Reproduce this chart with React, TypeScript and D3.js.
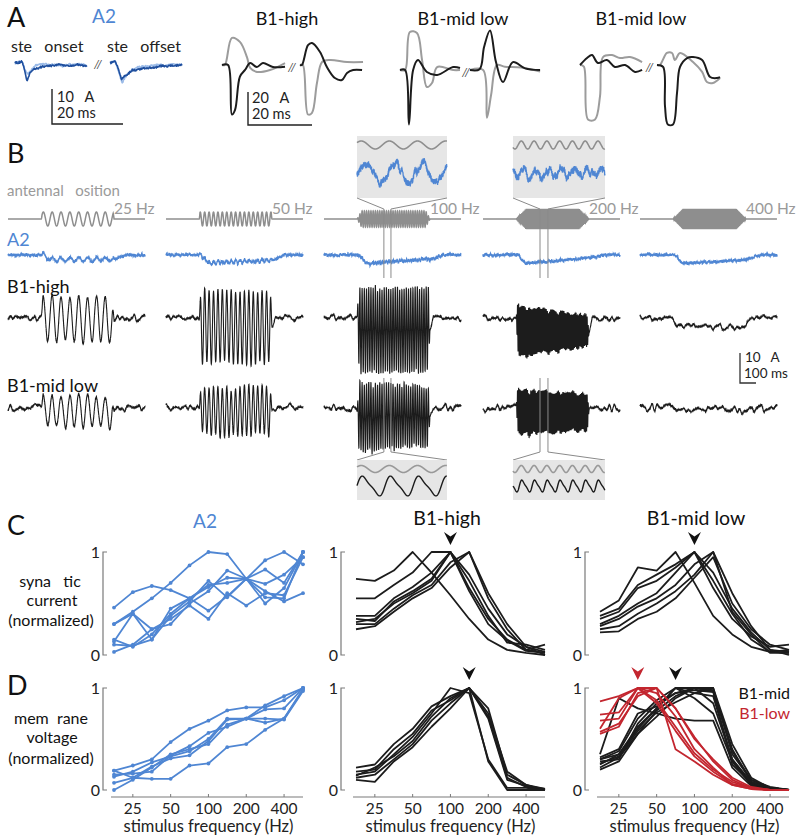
import React from 'react';
import * as d3 from 'd3';

// ================= DATA =================
// Tuning curves (panels C & D): normalized response per stimulus frequency
const FREQS = [17.7, 25, 35.4, 50, 70.7, 100, 141, 200, 283, 400, 566];
const TICK_FREQS = [25, 50, 100, 200, 400];

const C_A2 = [
  [0.46, 0.61, 0.67, 0.63, 0.55, 0.43, 0.57, 0.74, 0.62, 0.52, 0.6],
  [0.3, 0.42, 0.55, 0.7, 0.87, 1.0, 0.98, 0.74, 0.69, 0.78, 0.95],
  [0.3, 0.4, 0.15, 0.45, 0.55, 0.66, 0.75, 0.74, 0.56, 0.55, 1.0],
  [0.13, 0.4, 0.25, 0.3, 0.5, 0.62, 0.82, 0.74, 0.92, 1.0, 0.88],
  [0.15, 0.08, 0.2, 0.4, 0.55, 0.68, 0.7, 0.74, 0.5, 0.65, 1.0],
  [0.1, 0.09, 0.15, 0.38, 0.52, 0.72, 0.56, 0.74, 0.83, 0.7, 1.0],
  [0.03, 0.1, 0.25, 0.35, 0.48, 0.35, 0.6, 0.48, 0.6, 0.58, 0.95],
];
const C_HIGH = [
  [0.74, 0.72, 0.82, 1.0, 0.8, 0.58, 0.35, 0.15, 0.05, 0.02, 0.0],
  [0.55, 0.55, 0.68, 0.8, 1.0, 1.0, 0.65, 0.35, 0.15, 0.05, 0.1],
  [0.38, 0.38, 0.55, 0.66, 0.8, 1.0, 0.78, 0.45, 0.2, 0.08, 0.03],
  [0.35, 0.33, 0.52, 0.62, 0.74, 1.0, 0.72, 0.38, 0.12, 0.1, 0.05],
  [0.32, 0.35, 0.5, 0.6, 0.72, 1.0, 0.62, 0.3, 0.14, 0.04, 0.02],
  [0.3, 0.3, 0.45, 0.58, 0.68, 0.9, 1.0, 0.55, 0.25, 0.05, 0.02],
  [0.25, 0.28, 0.42, 0.55, 0.65, 0.85, 1.0, 0.6, 0.3, 0.08, 0.0],
];
const C_MIDLOW = [
  [0.42, 0.53, 0.85, 0.82, 1.0, 0.7, 0.38, 0.2, 0.08, 0.03, 0.05],
  [0.38, 0.45, 0.68, 0.78, 0.88, 1.0, 0.72, 0.4, 0.15, 0.03, 0.02],
  [0.35, 0.42, 0.65, 0.72, 0.85, 1.0, 0.8, 0.45, 0.22, 0.05, 0.03],
  [0.3, 0.38, 0.5, 0.6, 0.8, 1.0, 0.65, 0.35, 0.18, 0.08, 0.1],
  [0.28, 0.35, 0.47, 0.55, 0.68, 0.88, 1.0, 0.42, 0.2, 0.02, 0.02],
  [0.25, 0.28, 0.4, 0.5, 0.62, 0.78, 1.0, 0.6, 0.28, 0.05, 0.0],
  [0.22, 0.23, 0.35, 0.42, 0.55, 0.75, 0.95, 0.5, 0.25, 0.1, 0.05],
];
const D_A2 = [
  [0.19, 0.24, 0.3, 0.47, 0.6, 0.68, 0.78, 0.81, 0.81, 0.88, 1.0],
  [0.07, 0.12, 0.11, 0.11, 0.24, 0.26, 0.42, 0.45, 0.59, 0.7, 0.98],
  [0.13, 0.18, 0.27, 0.33, 0.38, 0.5, 0.7, 0.7, 0.7, 0.69, 0.97],
  [0.15, 0.16, 0.18, 0.34, 0.43, 0.56, 0.62, 0.7, 0.83, 0.92, 1.0],
  [0.19, 0.12, 0.23, 0.31, 0.34, 0.48, 0.69, 0.7, 0.66, 0.7, 0.99],
  [0.0, 0.1, 0.22, 0.35, 0.4, 0.45, 0.64, 0.7, 0.79, 0.8, 1.0],
];
const D_HIGH = [
  [0.22, 0.25, 0.45, 0.6, 0.82, 0.92, 1.0, 0.8, 0.15, 0.05, 0.0],
  [0.18, 0.2, 0.4, 0.55, 0.78, 0.88, 1.0, 0.72, 0.12, 0.03, 0.0],
  [0.15, 0.18, 0.35, 0.52, 0.75, 1.0, 0.95, 0.3, 0.02, 0.02, 0.0],
  [0.12, 0.15, 0.3, 0.45, 0.68, 0.85, 1.0, 0.7, 0.1, 0.04, 0.01],
  [0.1, 0.08, 0.28, 0.42, 0.62, 0.8, 1.0, 0.28, 0.0, 0.0, 0.0],
  [0.14, 0.22, 0.33, 0.48, 0.72, 0.9, 1.0, 0.75, 0.18, 0.05, 0.01],
];
const D_MID = [
  [0.22, 0.32, 0.55, 0.78, 0.92, 1.0, 0.98, 0.4, 0.08, 0.02, 0.0],
  [0.25, 0.35, 0.6, 0.8, 1.0, 0.95, 0.92, 0.3, 0.06, 0.01, 0.0],
  [0.28, 0.3, 0.65, 0.85, 0.95, 1.0, 1.0, 0.35, 0.1, 0.02, 0.0],
  [0.3, 0.38, 0.7, 0.88, 1.0, 0.9, 0.75, 0.28, 0.05, 0.01, 0.0],
  [0.32, 0.4, 0.75, 0.82, 0.95, 0.98, 0.96, 0.25, 0.07, 0.02, 0.0],
  [0.35, 0.9, 0.8, 0.75, 0.7, 0.68, 0.68, 0.22, 0.04, 0.0, 0.0],
  [0.2, 0.28, 0.55, 0.72, 0.9, 1.0, 0.85, 0.3, 0.08, 0.02, 0.0],
  [0.3, 0.35, 0.62, 0.8, 1.0, 1.0, 0.97, 0.38, 0.1, 0.03, 0.0],
  [0.26, 0.33, 0.58, 0.76, 0.86, 0.95, 1.0, 0.45, 0.12, 0.02, 0.0],
];
const D_LOW = [
  [0.87, 0.92, 1.0, 0.88, 0.62, 0.36, 0.2, 0.08, 0.02, 0.0, 0.0],
  [0.74, 0.76, 1.0, 1.0, 0.8, 0.5, 0.3, 0.12, 0.03, 0.0, 0.0],
  [0.68, 0.7, 1.0, 0.95, 0.72, 0.4, 0.22, 0.05, 0.01, 0.0, 0.0],
  [0.57, 0.65, 0.92, 1.0, 0.8, 0.52, 0.28, 0.1, 0.02, 0.0, 0.0],
  [0.55, 0.62, 0.95, 1.0, 0.4, 0.28, 0.15, 0.05, 0.01, 0.0, 0.0],
  [0.6, 0.9, 1.0, 0.85, 0.58, 0.33, 0.18, 0.06, 0.02, 0.0, 0.0],
];
const ARROW_C_HIGH = 100;
const ARROW_C_MIDLOW = 100;
const ARROW_D_HIGH = 141;
const ARROW_D_MID = 70.7;
const ARROW_D_LOW = 35.4;

// Panel A: step responses, knots [ms, pA]
type Knot = [number, number];
const A2_ON_DARK: Knot[] = [[0, 0], [2, 0.3], [2.5, -1.5], [3.4, -5], [4.2, -3], [5.4, -1.7], [7, -1.2], [9.9, -0.8], [12.7, -0.5], [15.5, -0.9], [18.3, -0.6], [20.3, -0.9]];
const A2_ON_LIGHT: Knot[] = [[0, 0], [2, 0.4], [2.8, -2], [3.6, -3.2], [4.5, -2], [6, -0.6], [9, -0.3], [13, -0.8], [17, -0.4], [20.3, -0.5]];
const A2_OFF_DARK: Knot[] = [[0, 0], [1.5, 0.4], [2.3, -1.5], [3.2, -4.6], [4.5, -3.6], [6, -2.3], [8, -1.8], [11, -1.4], [14, -0.9], [17, -0.8], [20.3, -0.6]];
const A2_OFF_LIGHT: Knot[] = [[0, 0], [1.5, 0.5], [2.5, -2.5], [3.4, -5.8], [4.4, -4], [6, -2], [9, -1], [13, -0.7], [17, -0.5], [20.3, -0.4]];

const HIGH_ON_BLACK: Knot[] = [[0, 0], [1.9, 0], [3.1, -30], [4.1, -27], [5.6, -7], [7.2, -3], [8.8, 1.2], [10.9, -1.2], [12.8, 1.2], [15.9, -1.2], [19.7, -1]];
const HIGH_ON_GRAY: Knot[] = [[0, 0], [0.9, 0], [3.1, 16.4], [5.6, 14], [7.8, 4.8], [8.8, -1.8], [10.9, -4.2], [15, -3], [19.7, 1.2]];
const HIGH_OFF_BLACK: Knot[] = [[0, 0], [0.6, 0], [2.5, 12], [3.75, 13.3], [6.25, 7.9], [8.4, -1.2], [10.9, -7.9], [13.1, -9.1], [14.7, -4.8], [16.6, -3], [19.4, -3]];
const HIGH_OFF_GRAY: Knot[] = [[0, 0], [0.9, 0], [2.5, -30], [3.75, -29], [5.3, -10.9], [6.9, 1.8], [9.4, 3], [14.7, 1.8], [19.7, 1.8]];
const MID_ON_BLACK: Knot[] = [[0, 0], [1.6, 0], [2.8, -33], [4.1, 0], [5.6, 6], [8.4, -1.2], [11.6, -3], [16.6, 1.8], [18.75, 1.2]];
const MID_ON_GRAY: Knot[] = [[0, 0], [1.6, 0], [3.1, 23], [5.3, 22.4], [6.9, 6], [8.4, -10.3], [10, -7.9], [11.6, 1.8], [16.6, 0], [18.75, 0]];
const MID_OFF_BLACK: Knot[] = [[0, 0], [3, 0.5], [4.4, 14], [6.25, 24], [8.1, 5], [10.3, -7.3], [13.4, 4.8], [17.2, 1], [21.9, 0]];
const MID_OFF_GRAY: Knot[] = [[0, 0], [4.1, 0], [5.3, -29], [6.6, -15], [8.4, 3], [10.9, 2], [16, 1.5], [21.9, -1]];
const LOW_ON_BLACK: Knot[] = [[0, 0], [2.2, 4.2], [3.75, 6], [5.6, 1.2], [8.4, 3], [10.9, -1.2], [14.1, 0], [17.2, -4.2], [19.4, -3]];
const LOW_ON_GRAY: Knot[] = [[0, 0], [1.2, -1], [2.5, -33], [4.7, -33], [6.25, -19], [7.2, 4.8], [10, 6], [12.5, 4.2], [15.6, 4.8], [19.4, 1.8]];
const LOW_OFF_BLACK: Knot[] = [[0, 0], [1.9, -1.2], [2.5, -25], [3.4, -36], [5, -36], [6.25, -17], [7.2, -1.2], [9.4, 4.2], [11.25, 4.8], [14.1, 3], [16.6, -7.3], [18.75, -7.9], [19.7, -7.3]];
const LOW_OFF_GRAY: Knot[] = [[0, 0], [0.9, 0], [3.1, 7.3], [4.7, 7.3], [5.6, 3], [7.2, 7.3], [11.25, 1.8], [14.1, -4.2], [15.6, -10.3], [17.5, -10.9], [19.7, -7.9]];

// Panel B: stimulus and response parameters per frequency
const STIM_FREQS = [25, 50, 100, 200, 400];
const STIM_LABELS = ['25 Hz', '50 Hz', '100 Hz', '200 Hz', '400 Hz'];
const STIM_AMP = [1, 1, 1.15, 1.45, 1.45];
const STIM_RAMP = [4, 4, 20, 45, 45];
const A2_STEP = [-1.6, -2.6, -2.8, -2.8, -2.8];
const A2_RECOVER = [0.9, 0.7, 0.5, 0.35, 0.6];
const A2_OSC = [0.7, 0.5, 0.3, 0, 0];
const HIGH_AMP = [7.5, 12, 14, 8.5, 0];
const HIGH_DECAY = [1, 1, 1, 0.6, 1];
const HIGH_SHIFT = [-0.5, -3, -4, -4.5, -2.8];
const MIDLOW_AMP = [5, 8, 11.5, 7.5, 0];
const MIDLOW_DECAY = [1, 1, 0.85, 0.8, 1];
const MIDLOW_SHIFT = [-1, -1, -3, -1.5, -0.5];
const INSET_WIN: [number, number][] = [[271, 303], [258, 294]];
const INSET_BLUE_OSC = [0.55, 0.25];
const INSET_BLACK_OSC = [1, 0.6];

// Fixed noise table (texture for recorded traces)
const NOISE = [0.31, -0.72, 0.15, 0.88, -0.43, -0.12, 0.64, -0.91, 0.27, 0.53, -0.35, 0.79, -0.66, 0.08, -0.21, 0.95, -0.58, 0.41, -0.84, 0.19, 0.71, -0.05, -0.77, 0.36, 0.62, -0.49, 0.12, -0.93, 0.47, 0.83, -0.28, -0.61, 0.24, 0.56, -0.14, -0.87, 0.69, 0.03, -0.39, 0.91, -0.71, 0.18, 0.44, -0.56, 0.77, -0.24, -0.82, 0.33, 0.59, -0.67, 0.09, 0.86, -0.45, -0.17, 0.51, -0.96, 0.22, 0.68, -0.31, 0.74, -0.53, 0.11, -0.79, 0.38, 0.97, -0.19, -0.63, 0.29, 0.57, -0.88, 0.14, 0.46, -0.36, 0.81, -0.07, -0.69, 0.42, 0.65, -0.51, 0.21, -0.92, 0.73, 0.05, -0.26, 0.89, -0.41, 0.17, -0.74, 0.55, 0.32, -0.98, 0.61, -0.13, 0.39, -0.57, 0.85, -0.33];

// ================= STYLE / LAYOUT =================
const FONT = 'Lato, "Open Sans", Arial, sans-serif';
const BLUE = '#4f86d3';
const DARK_BLUE = '#1f4f9e';
const LIGHT_BLUE = '#9bbbe8';
const RED = '#c3262f';
const BLACK = '#1c1c1c';
const STIM_GRAY = '#8e8e8e';
const TEXT_GRAY = '#9a9a9a';
const AXIS_GRAY = '#7a7a7a';

const N1 = NOISE.length;
const N2 = N1 - 8;
function noiseAt(i: number, seed: number): number {
  const a = NOISE[(((i * 7 + seed * 13) % N1) + N1) % N1];
  const b = NOISE[(((i * 11 + seed * 29 + 3) % N2) + N2) % N2];
  return 0.6 * a + 0.4 * b;
}
function smoothNoise(t: number, step: number, seed: number): number {
  const u = t / step;
  const k = Math.floor(u);
  const f = u - k;
  const s = f * f * (3 - 2 * f);
  const a = noiseAt(k, seed);
  const b = noiseAt(k + 1, seed);
  return a + (b - a) * s;
}
function lerpKnots(k: Knot[], t: number): number {
  if (t <= k[0][0]) return k[0][1];
  for (let j = 1; j < k.length; j++) {
    if (t <= k[j][0]) {
      const [t0, v0] = k[j - 1];
      const [t1, v1] = k[j];
      return v0 + ((v1 - v0) * (t - t0)) / (t1 - t0);
    }
  }
  return k[k.length - 1][1];
}

// ================= PANEL A =================
function StepTrace({ knots, x0, base, pxms, pxpa, color, width, noisy, seed }: any) {
  const xs = d3.scaleLinear().domain([0, 1]).range([x0, x0 + pxms]);
  const ys = d3.scaleLinear().domain([0, 1]).range([base, base - pxpa]);
  let pts: Knot[];
  if (noisy) {
    pts = [];
    const end = knots[knots.length - 1][0];
    let i = 0;
    for (let t = 0; t <= end; t += 0.15, i++) {
      pts.push([t, lerpKnots(knots, t) + 0.35 * noiseAt(i, seed) + 0.25 * smoothNoise(t, 0.8, seed + 3)]);
    }
  } else pts = knots;
  const line = d3
    .line<Knot>()
    .x((d) => xs(d[0]))
    .y((d) => ys(d[1]))
    .curve(noisy ? d3.curveLinear : d3.curveCatmullRom.alpha(0.5));
  return <path d={line(pts) || ''} fill="none" stroke={color} strokeWidth={width} strokeLinejoin="round" />;
}

function PanelA() {
  const pxmsA2 = 3.55, pxpaA2 = 3.5;
  const pxmsB1 = 3.2, pxpaB1 = 1.65;
  const groups = [
    { title: 'B1-high', cx: 287, on: 222, off: 300, base: 65, k: [HIGH_ON_GRAY, HIGH_ON_BLACK, HIGH_OFF_GRAY, HIGH_OFF_BLACK] },
    { title: 'B1-mid low', cx: 463, on: 400, off: 470, base: 70, k: [MID_ON_GRAY, MID_ON_BLACK, MID_OFF_GRAY, MID_OFF_BLACK] },
    { title: 'B1-mid low', cx: 641, on: 580, off: 657, base: 65, k: [LOW_ON_GRAY, LOW_ON_BLACK, LOW_OFF_GRAY, LOW_OFF_BLACK] },
  ];
  return (
    <g>
      <text x={7} y={27} fontSize={27} fill="#111">A</text>
      <text x={104} y={23} fontSize={19} fill={BLUE} textAnchor="middle">A2</text>
      <text x={11} y={52} fontSize={16} fill="#222" style={{ whiteSpace: 'pre' }}>ste   onset</text>
      <text x={107} y={52} fontSize={16} fill="#222" style={{ whiteSpace: 'pre' }}>ste   offset</text>
      <StepTrace knots={A2_ON_LIGHT} x0={15} base={63} pxms={pxmsA2} pxpa={pxpaA2} color={LIGHT_BLUE} width={1.6} noisy seed={11} />
      <StepTrace knots={A2_ON_DARK} x0={15} base={63} pxms={pxmsA2} pxpa={pxpaA2} color={DARK_BLUE} width={1.6} noisy seed={4} />
      <StepTrace knots={A2_OFF_LIGHT} x0={110} base={63} pxms={pxmsA2} pxpa={pxpaA2} color={LIGHT_BLUE} width={1.6} noisy seed={17} />
      <StepTrace knots={A2_OFF_DARK} x0={110} base={63} pxms={pxmsA2} pxpa={pxpaA2} color={DARK_BLUE} width={1.6} noisy seed={23} />
      <text x={94} y={68} fontSize={12} fill="#444" fontStyle="italic">//</text>
      {/* scale bar A2 */}
      <path d={`M52,${124 - 10 * pxpaA2}V124H${52 + 20 * pxmsA2}`} fill="none" stroke="#222" strokeWidth={1.4} />
      <text x={57} y={102} fontSize={14.5} fill="#222" style={{ whiteSpace: 'pre' }}>10   A</text>
      <text x={57} y={118} fontSize={14.5} fill="#222">20 ms</text>

      {groups.map((g, gi) => (
        <g key={gi}>
          <text x={g.cx} y={25} fontSize={18} fill="#111" textAnchor="middle">{g.title}</text>
          <StepTrace knots={g.k[0]} x0={g.on} base={g.base} pxms={pxmsB1} pxpa={pxpaB1} color="#9c9c9c" width={2} />
          <StepTrace knots={g.k[1]} x0={g.on} base={g.base} pxms={pxmsB1} pxpa={pxpaB1} color={BLACK} width={2} />
          <StepTrace knots={g.k[2]} x0={g.off} base={g.base} pxms={pxmsB1} pxpa={pxpaB1} color="#9c9c9c" width={2} />
          <StepTrace knots={g.k[3]} x0={g.off} base={g.base} pxms={pxmsB1} pxpa={pxpaB1} color={BLACK} width={2} />
          <text x={(g.on + 20 * pxmsB1 + g.off) / 2 - 5} y={g.base + 6} fontSize={12} fill="#444" fontStyle="italic">//</text>
        </g>
      ))}
      <path d={`M248,${125 - 20 * pxpaB1}V125H${248 + 20 * pxmsB1}`} fill="none" stroke="#222" strokeWidth={1.4} />
      <text x={252} y={103} fontSize={14.5} fill="#222" style={{ whiteSpace: 'pre' }}>20   A</text>
      <text x={252} y={119} fontSize={14.5} fill="#222">20 ms</text>
    </g>
  );
}

// ================= PANEL B =================
const T_TOTAL = 620, T_ON = 150, T_OFF = 480;
const B_COL_X = [8, 166, 324, 483, 640];
const B_COL_W = 137;
const Y_STIM = 219, Y_A2 = 255, Y_HIGH = 318, Y_MIDLOW = 408;
const PXPA_B = 3.0;
const STIM_PX = 7;

function stimVal(g: number, t: number): number {
  const f = STIM_FREQS[g];
  const ramp = STIM_RAMP[g];
  if (t < T_ON || t > T_OFF) return 0;
  const env = Math.min(1, (t - T_ON) / ramp, (T_OFF - t) / ramp);
  return STIM_AMP[g] * env * Math.sin((2 * Math.PI * f * (t - T_ON)) / 1000);
}
function a2Val(g: number, t: number, i: number): number {
  const on = T_ON + 8;
  const rec = A2_RECOVER[g];
  let e = 0;
  if (t >= on && t < on + 35) e = (t - on) / 35;
  else if (t >= on + 35 && t < T_OFF) e = 1 + ((rec - 1) * (t - on - 35)) / (T_OFF - on - 35);
  else if (t >= T_OFF && t < T_OFF + 60) e = rec * (1 - (t - T_OFF) / 60);
  const inStim = t >= T_ON && t <= T_OFF ? 1 : 0;
  return (
    A2_STEP[g] * e +
    inStim * A2_OSC[g] * Math.sin((2 * Math.PI * STIM_FREQS[g] * (t - T_ON)) / 1000) +
    0.6 * noiseAt(i, g * 5 + 1) +
    0.4 * smoothNoise(t, 5, g * 5 + 2)
  );
}
function respVal(amp: number, decay: number, shift: number, g: number, t: number, i: number, seed: number, nAmp: number): number {
  const f = STIM_FREQS[g];
  let env = 0, sh = 0;
  if (t >= T_ON && t <= T_OFF) {
    const r = Math.min(1, (t - T_ON) / 8, (T_OFF - t) / 8);
    const frac = (t - T_ON) / (T_OFF - T_ON);
    env = r * (1 + (decay - 1) * frac);
    sh = Math.min(1, (t - T_ON) / 15);
  } else if (t > T_OFF) sh = Math.max(0, 1 - (t - T_OFF) / 15);
  return (
    shift * sh +
    amp * env * Math.sin((2 * Math.PI * f * (t - T_ON)) / 1000) +
    nAmp * (smoothNoise(t, 11, seed) + 0.4 * noiseAt(i, seed + 3) * (i % 6 === 0 ? 1 : 0.3))
  );
}

function PanelB() {
  const cols = STIM_FREQS.map((f, g) => {
    const xs = d3.scaleLinear().domain([0, T_TOTAL]).range([B_COL_X[g], B_COL_X[g] + B_COL_W]);
    const yStim = d3.scaleLinear().domain([-1, 1]).range([Y_STIM + STIM_PX, Y_STIM - STIM_PX]);
    const mk = (base: number) => d3.scaleLinear().domain([0, 1]).range([base, base - PXPA_B]);
    const yA2 = mk(Y_A2), yH = mk(Y_HIGH), yM = mk(Y_MIDLOW);
    const stim: Knot[] = [], a2: Knot[] = [], hi: Knot[] = [], ml: Knot[] = [];
    const dtS = Math.min(0.25, 1000 / f / 12);
    for (let t = 0; t <= T_TOTAL; t += dtS) stim.push([t, stimVal(g, t)]);
    let i = 0;
    for (let t = 0; t <= T_TOTAL; t += 0.5, i++) a2.push([t, a2Val(g, t, i)]);
    i = 0;
    for (let t = 0; t <= T_TOTAL; t += 0.25, i++) {
      hi.push([t, respVal(HIGH_AMP[g], HIGH_DECAY[g], HIGH_SHIFT[g], g, t, i, g * 7 + 40, 1.3)]);
      ml.push([t, respVal(MIDLOW_AMP[g], MIDLOW_DECAY[g], MIDLOW_SHIFT[g], g, t, i, g * 7 + 60, 1.6)]);
    }
    const ln = (ys: any) => d3.line<Knot>().x((d) => xs(d[0])).y((d) => ys(d[1]));
    return {
      g,
      xs,
      stim: ln(yStim)(stim) || '',
      a2: ln(yA2)(a2) || '',
      hi: ln(yH)(hi) || '',
      ml: ln(yM)(ml) || '',
    };
  });

  const insets = [2, 3].map((g, k) => {
    const col = cols[g];
    const win = INSET_WIN[k];
    const vx0 = col.xs(win[0]);
    const vx1 = col.xs(win[1]);
    const top = { x: k === 0 ? 357 : 513, y: 136, w: k === 0 ? 90 : 92, h: 62 };
    const bot = { x: top.x, y: 460, w: top.w, h: 40 };
    const f = STIM_FREQS[g];
    const xt = d3.scaleLinear().domain(win).range([top.x, top.x + top.w]);
    const sine = (t: number) => Math.sin((2 * Math.PI * f * (t - T_ON)) / 1000);
    const sTop: Knot[] = [], bTop: Knot[] = [], sBot: Knot[] = [], kBot: Knot[] = [];
    let i = 0;
    for (let t = win[0]; t <= win[1]; t += 0.05, i++) {
      sTop.push([t, sine(t)]);
      bTop.push([t, INSET_BLUE_OSC[k] * Math.sin((2 * Math.PI * f * (t - T_ON)) / 1000 - 1.2) + 0.25 * noiseAt(i, 90 + k) + 0.3 * smoothNoise(t, 0.9, 95 + k * 3)]);
      sBot.push([t, sine(t)]);
      const ph = (2 * Math.PI * f * (t - T_ON)) / 1000 - 0.6;
      kBot.push([t, INSET_BLACK_OSC[k] * (Math.sin(ph) + 0.25 * Math.sin(2 * ph))]);
    }
    const lineY = (y0: number, amp: number) => {
      const ys = d3.scaleLinear().domain([-1, 1]).range([y0 + amp, y0 - amp]);
      return d3.line<Knot>().x((d) => xt(d[0])).y((d) => ys(d[1]));
    };
    return { k, vx0, vx1, top, bot, sTop: lineY(top.y + 9, 4)(sTop) || '', bTop: lineY(top.y + 37, 17)(bTop) || '', sBot: lineY(bot.y + 9, 3.5)(sBot) || '', kBot: lineY(bot.y + 26, 9)(kBot) || '' };
  });

  return (
    <g>
      <text x={7} y={163} fontSize={27} fill="#111">B</text>
      <text x={7} y={196} fontSize={15} fill={TEXT_GRAY} style={{ whiteSpace: 'pre' }}>antennal   osition</text>
      <text x={7} y={246} fontSize={18} fill={BLUE}>A2</text>
      <text x={7} y={293} fontSize={18} fill="#111">B1-high</text>
      <text x={7} y={392} fontSize={18} fill="#111">B1-mid low</text>
      {cols.map((c) => (
        <g key={c.g}>
          <path d={c.stim} fill="none" stroke={STIM_GRAY} strokeWidth={1.5} />
          <text x={B_COL_X[c.g] + 106} y={214} fontSize={15.5} fill={TEXT_GRAY}>{STIM_LABELS[c.g]}</text>
          <path d={c.a2} fill="none" stroke={BLUE} strokeWidth={1.3} />
          <path d={c.hi} fill="none" stroke={BLACK} strokeWidth={1.1} />
          <path d={c.ml} fill="none" stroke={BLACK} strokeWidth={1.1} />
        </g>
      ))}
      {insets.map((s) => (
        <g key={s.k}>
          <rect x={s.top.x} y={s.top.y} width={s.top.w} height={s.top.h} fill="#e6e6e6" />
          <path d={s.sTop} fill="none" stroke={STIM_GRAY} strokeWidth={1.6} />
          <path d={s.bTop} fill="none" stroke={BLUE} strokeWidth={1.3} />
          <path
            d={`M${s.top.x},${s.top.y + s.top.h}L${s.vx0},209V278M${s.top.x + s.top.w},${s.top.y + s.top.h}L${s.vx1},209V278`}
            fill="none"
            stroke="#8a8a8a"
            strokeWidth={1}
          />
          <path
            d={`M${s.vx0},378V452L${s.bot.x},${s.bot.y}M${s.vx1},378V452L${s.bot.x + s.bot.w},${s.bot.y}`}
            fill="none"
            stroke="#8a8a8a"
            strokeWidth={1}
          />
          <rect x={s.bot.x} y={s.bot.y} width={s.bot.w} height={s.bot.h} fill="#e6e6e6" />
          <path d={s.sBot} fill="none" stroke="#999" strokeWidth={1.6} />
          <path d={s.kBot} fill="none" stroke={BLACK} strokeWidth={1.4} />
        </g>
      ))}
      {/* scale bar */}
      <path d={`M740,${383 - 10 * PXPA_B}V383H756`} fill="none" stroke="#333" strokeWidth={1.3} />
      <text x={745} y={362} fontSize={13.5} fill="#222" style={{ whiteSpace: 'pre' }}>10   A</text>
      <text x={744} y={378} fontSize={13.5} fill="#222">100 ms</text>
    </g>
  );
}

// ================= PANELS C & D =================
const COLS = [
  { axis: 103, x: 114 },
  { axis: 341, x: 356 },
  { axis: 585, x: 600 },
];
const DATA_W = 189;

function Arrow({ x, y, color }: any) {
  return <path d={`M${x},${y}L${x - 6.5},${y - 13}L${x},${y - 8.5}L${x + 6.5},${y - 13}Z`} fill={color} />;
}

function Tuning({ col, yTop, yBot, groups, dots, arrows, xAxis }: any) {
  const c = COLS[col];
  const x = d3.scaleLog().domain([FREQS[0], FREQS[FREQS.length - 1]]).range([c.x, c.x + DATA_W]);
  const y = d3.scaleLinear().domain([0, 1]).range([yBot, yTop]);
  const line = d3.line<number>().x((_, i) => x(FREQS[i])).y((v) => y(v));
  return (
    <g>
      <path d={`M${c.axis + 4},${y(1)}H${c.axis}V${y(0)}H${c.axis + 4}`} fill="none" stroke={AXIS_GRAY} strokeWidth={1.2} />
      <text x={c.axis - 3} y={y(1) + 6} fontSize={16} textAnchor="end" fill="#222">1</text>
      <text x={c.axis - 3} y={y(0) + 6} fontSize={16} textAnchor="end" fill="#222">0</text>
      {groups.map((gr: any, gi: number) => (
        <g key={gi}>
          {gr.data.map((s: number[], si: number) => (
            <path key={si} d={line(s) || ''} fill="none" stroke={gr.color} strokeWidth={1.8} strokeLinejoin="round" />
          ))}
          {dots &&
            gr.data.map((s: number[], si: number) =>
              s.map((v, i) => <circle key={`${si}-${i}`} cx={x(FREQS[i])} cy={y(v)} r={1.9} fill={gr.color} />)
            )}
        </g>
      ))}
      {arrows.map((a: any, i: number) => (
        <Arrow key={i} x={x(a.f)} y={a.y} color={a.color} />
      ))}
      {xAxis && (
        <g>
          <line x1={c.x - 3} x2={c.x + DATA_W} y1={797} y2={797} stroke={AXIS_GRAY} strokeWidth={1.2} />
          {TICK_FREQS.map((f) => (
            <g key={f}>
              <line x1={x(f)} x2={x(f)} y1={797} y2={794} stroke={AXIS_GRAY} strokeWidth={1} />
              <text x={x(f)} y={814} fontSize={15.5} textAnchor="middle" fill="#222">{f}</text>
            </g>
          ))}
          <text x={c.x + DATA_W / 2} y={832} fontSize={16.5} textAnchor="middle" fill="#222">stimulus frequency (Hz)</text>
        </g>
      )}
    </g>
  );
}

function PanelsCD() {
  const cT = 552, cB = 655, dT = 688, dB = 790;
  return (
    <g>
      <text x={7} y={535} fontSize={27} fill="#111">C</text>
      <text x={205} y={528} fontSize={19} fill={BLUE} textAnchor="middle">A2</text>
      <text x={447} y={525} fontSize={19.5} fill="#111" textAnchor="middle">B1-high</text>
      <text x={696} y={525} fontSize={19.5} fill="#111" textAnchor="middle">B1-mid low</text>
      <text x={50} y={587} fontSize={16} textAnchor="middle" fill="#111" style={{ whiteSpace: 'pre' }}>syna   tic</text>
      <text x={52} y={606} fontSize={16} textAnchor="middle" fill="#111">current</text>
      <text x={51} y={626} fontSize={16} textAnchor="middle" fill="#111">(normalized)</text>
      <Tuning col={0} yTop={cT} yBot={cB} groups={[{ data: C_A2, color: BLUE }]} dots arrows={[]} />
      <Tuning col={1} yTop={cT} yBot={cB} groups={[{ data: C_HIGH, color: BLACK }]} arrows={[{ f: ARROW_C_HIGH, y: 545, color: '#111' }]} />
      <Tuning col={2} yTop={cT} yBot={cB} groups={[{ data: C_MIDLOW, color: BLACK }]} arrows={[{ f: ARROW_C_MIDLOW, y: 545, color: '#111' }]} />

      <text x={7} y={695} fontSize={27} fill="#111">D</text>
      <text x={51} y={724} fontSize={16} textAnchor="middle" fill="#111" style={{ whiteSpace: 'pre' }}>mem  rane</text>
      <text x={52} y={743} fontSize={16} textAnchor="middle" fill="#111">voltage</text>
      <text x={51} y={764} fontSize={16} textAnchor="middle" fill="#111">(normalized)</text>
      <Tuning col={0} yTop={dT} yBot={dB} groups={[{ data: D_A2, color: BLUE }]} dots arrows={[]} xAxis />
      <Tuning col={1} yTop={dT} yBot={dB} groups={[{ data: D_HIGH, color: BLACK }]} arrows={[{ f: ARROW_D_HIGH, y: 680, color: '#111' }]} xAxis />
      <Tuning
        col={2}
        yTop={dT}
        yBot={dB}
        groups={[
          { data: D_MID, color: BLACK },
          { data: D_LOW, color: RED },
        ]}
        arrows={[
          { f: ARROW_D_LOW, y: 680, color: RED },
          { f: ARROW_D_MID, y: 680, color: '#111' },
        ]}
        xAxis
      />
      <text x={790} y={699} fontSize={16} textAnchor="end" fill="#111">B1-mid</text>
      <text x={790} y={719} fontSize={16} textAnchor="end" fill={RED}>B1-low</text>
    </g>
  );
}

export default function App() {
  return (
    <svg
      width={800}
      height={836}
      viewBox="0 0 800 836"
      style={{ position: 'absolute', left: 0, top: 0, background: '#fff', fontFamily: FONT }}
    >
      <rect width={800} height={836} fill="#fff" />
      <PanelA />
      <PanelB />
      <PanelsCD />
    </svg>
  );
}
